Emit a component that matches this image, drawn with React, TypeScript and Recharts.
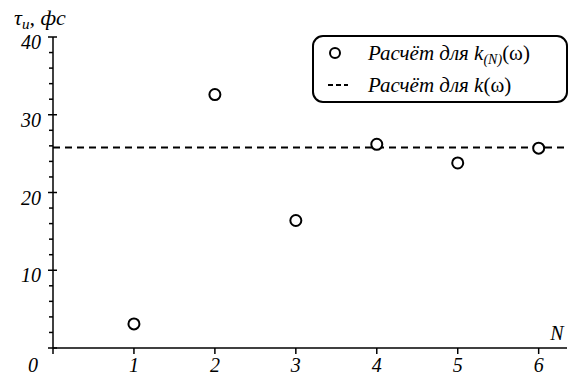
import { ScatterChart, Scatter, XAxis, YAxis, ReferenceLine, Legend } from "recharts";

const nValues = [1, 2, 3, 4, 5, 6];
const tauValues = [3.1, 32.6, 16.4, 26.2, 23.8, 25.7];
const tauReference = 25.8;
const xTicks = [0, 1, 2, 3, 4, 5, 6];
const yTicks = [0, 2, 4, 6, 8, 10, 12, 14, 16, 18, 20, 22, 24, 26, 28, 30, 32, 34, 36, 38, 40];
const yLabelTicks = [10, 20, 30, 40];

const data = nValues.map((n, i) => ({ n, tau: tauValues[i] }));

const txt = {
  fontFamily: '"Liberation Serif", "Times New Roman", Times, "DejaVu Serif", "Noto Serif", serif',
  fontStyle: "italic",
  fontSize: 20,
};

const XTick = (props: any) => {
  const { x, y, payload } = props;
  const v = payload.value;
  return (
    <g>
      <line x1={x} x2={x} y1={y} y2={y + 6} stroke="#000" strokeWidth={1.5} />
      <text x={v === 0 ? x - 20 : x} y={y + 24} textAnchor="middle" fill="#000" style={txt}>
        {v}
      </text>
    </g>
  );
};

const YTick = (props: any) => {
  const { x, y, payload } = props;
  const v = payload.value;
  const major = v % 10 === 0;
  return (
    <g>
      <line x1={major ? x - 5 : x - 4} x2={major ? x + 4 : x} y1={y} y2={y} stroke="#000" strokeWidth={1.5} />
      {yLabelTicks.includes(v) && (
        <text x={x - 12} y={y + 12} textAnchor="end" fill="#000" style={txt}>
          {v}
        </text>
      )}
    </g>
  );
};

const Circle = (props: any) => (
  <circle cx={props.cx} cy={props.cy} r={5.5} fill="#fff" stroke="#000" strokeWidth={2} />
);

const LegendBox = () => (
  <svg width={256} height={68}>
    <rect x={1} y={1} width={254} height={66} rx={10} fill="#fff" stroke="#000" strokeWidth={2} />
    <circle cx={23} cy={18} r={5} fill="#fff" stroke="#000" strokeWidth={2} />
    <text x={56} y={25} fill="#000" style={{ ...txt, fontSize: 21 }}>
      Расчёт для k
      <tspan fontSize={14} dy={4}>(N)</tspan>
      <tspan fontStyle="normal" dy={-4}>(ω)</tspan>
    </text>
    <line x1={16} x2={36} y1={50} y2={50} stroke="#000" strokeWidth={2} strokeDasharray="5 3" />
    <text x={56} y={57} fill="#000" style={{ ...txt, fontSize: 21 }}>
      Расчёт для k<tspan fontStyle="normal">(ω)</tspan>
    </text>
  </svg>
);

export default function App() {
  return (
    <div style={{ position: "absolute", left: 0, top: 0, background: "#fff" }}>
      <ScatterChart width={572} height={376} margin={{ top: 37, right: 5, bottom: 0, left: 0 }}>
        <XAxis
          type="number"
          dataKey="n"
          domain={[0, 6.35]}
          ticks={xTicks}
          interval={0}
          allowDataOverflow
          height={28}
          tickSize={0}
          tickMargin={0}
          tickLine={false}
          tick={<XTick />}
          axisLine={{ stroke: "#000", strokeWidth: 1.5 }}
          label={{
            content: () => (
              <text x={557} y={340} textAnchor="middle" fill="#000" style={txt}>
                N
              </text>
            ),
          }}
        />
        <YAxis
          type="number"
          dataKey="tau"
          domain={[0, 40]}
          ticks={yTicks}
          interval={0}
          allowDataOverflow
          width={53}
          tickSize={0}
          tickMargin={0}
          tickLine={false}
          tick={<YTick />}
          axisLine={{ stroke: "#000", strokeWidth: 1.5 }}
          label={{
            content: () => (
              <text x={14} y={25} fill="#000" style={{ ...txt, fontSize: 22 }}>
                τ<tspan fontSize={15} dy={4}>и</tspan>
                <tspan dy={-4}>, фс</tspan>
              </text>
            ),
          }}
        />
        <ReferenceLine y={tauReference} stroke="#000" strokeWidth={2} strokeDasharray="7 5" ifOverflow="extendDomain" />
        <Scatter data={data} shape={<Circle />} isAnimationActive={false} />
        <Legend
          layout="vertical"
          align="center"
          verticalAlign="middle"
          content={<LegendBox />}
          wrapperStyle={{ position: "absolute", left: 312, top: 35, width: 256, height: 68 }}
        />
      </ScatterChart>
    </div>
  );
}
